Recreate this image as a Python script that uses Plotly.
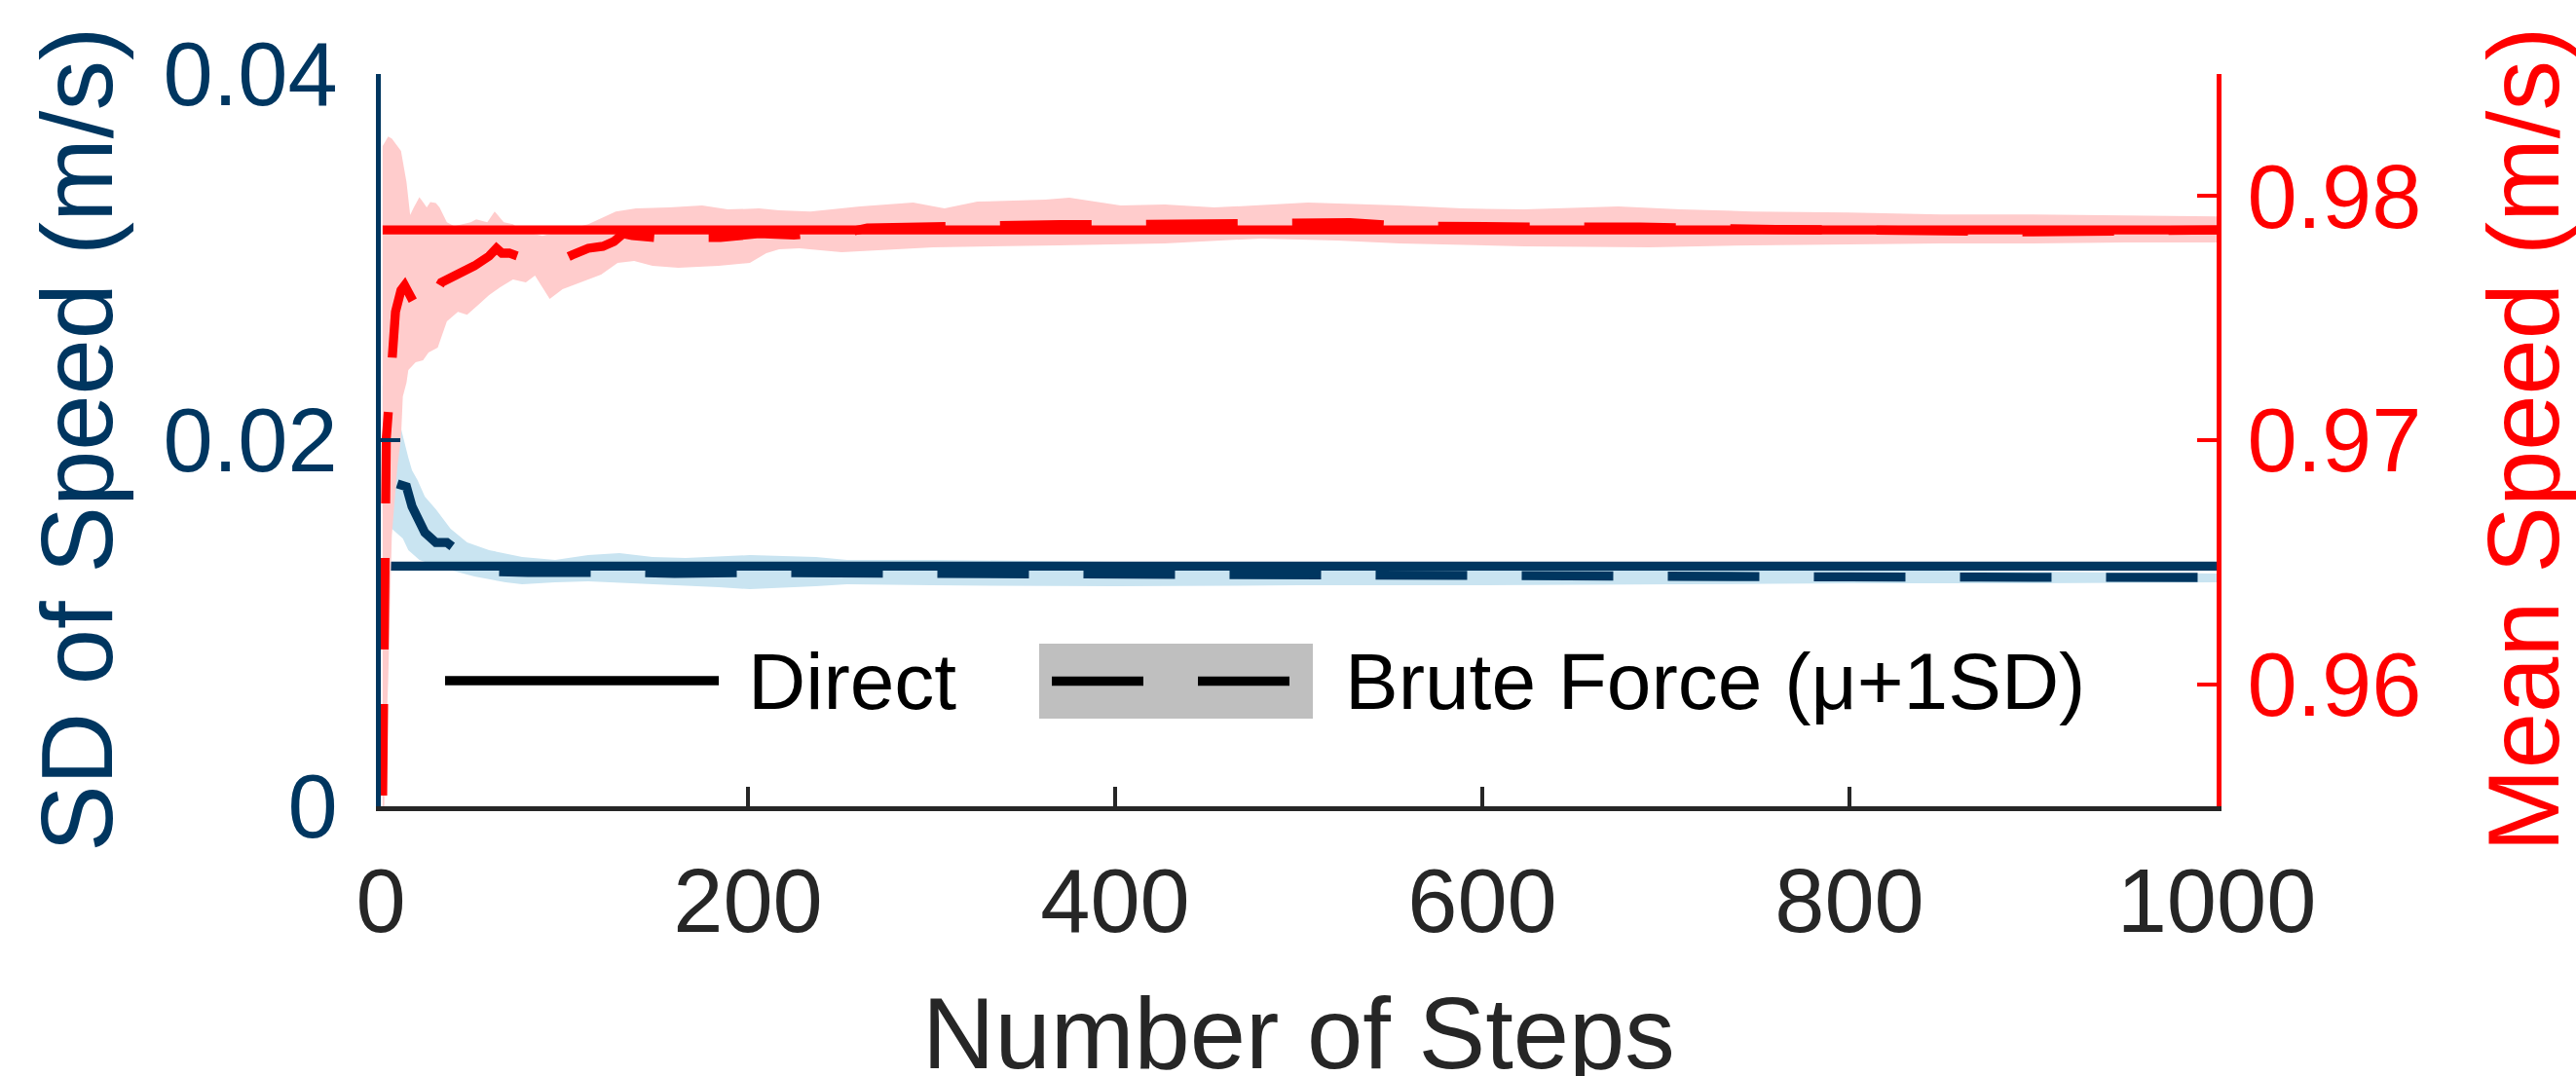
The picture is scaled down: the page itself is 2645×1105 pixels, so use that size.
import plotly.graph_objects as go

# ---------------- data ----------------
# Brute-force mean speed (right axis, m/s)
bf_mean_x = [1, 3, 5, 6, 8, 11, 13, 15, 17, 22, 33, 42, 51, 59, 63, 66, 70, 88,
             95, 104, 113, 121, 127, 132, 137, 150, 167, 185, 206, 225, 242, 255, 265, 291,
             320, 345, 370, 400, 425, 449, 479, 505, 528, 558, 583, 608, 637, 686, 717,
             760, 800, 850, 900, 950, 1000]
bf_mean = [0.95544, 0.97008, 0.97207, 0.97347, 0.97526, 0.97614, 0.97634, 0.97606, 0.97578,
           0.97506, 0.97646, 0.97678, 0.97714, 0.97754, 0.97786, 0.97766, 0.97766,
           0.97718, 0.97726, 0.97758, 0.97786, 0.97794, 0.97814, 0.97846, 0.97838,
           0.97830, 0.97826, 0.97830, 0.97846, 0.97840, 0.97853, 0.97853, 0.97869, 0.97873,
           0.97883, 0.97885, 0.97883, 0.97883, 0.97885, 0.97883, 0.97891, 0.97893, 0.97891,
           0.97877, 0.97873, 0.97869, 0.97873, 0.97873, 0.97865, 0.97863, 0.97861, 0.97855,
           0.97853, 0.97857, 0.97861]

# Brute-force mean speed band, upper edge
bf_mean_up_x = [1, 4, 6, 11, 14, 16, 18, 21, 23, 25, 27, 30, 32, 36, 40, 49, 52, 58, 62, 67,
                72, 77, 88, 99, 113, 128, 139, 157, 175, 189, 206, 217, 234, 261, 290, 307,
                325, 362, 375, 403, 427, 454, 505, 555, 589, 623, 674, 708, 747, 800, 850,
                900, 950, 1000]
bf_mean_up = [0.98205, 0.98244, 0.98236, 0.98185, 0.98057, 0.97923, 0.97953, 0.97995, 0.97975,
              0.97953, 0.97975, 0.97971, 0.97953, 0.97893, 0.97877, 0.97893, 0.97905, 0.97893,
              0.97937, 0.97893, 0.97885, 0.97857, 0.97837, 0.97857, 0.97885, 0.97937, 0.97949,
              0.97953, 0.97961, 0.97945, 0.97949, 0.97941, 0.97937, 0.97957, 0.97973, 0.97949,
              0.97977, 0.97985, 0.97993, 0.97961, 0.97965, 0.97953, 0.97973, 0.97961, 0.97949,
              0.97945, 0.97957, 0.97945, 0.97937, 0.97933, 0.97925, 0.97925, 0.97921, 0.97917]

# Brute-force mean speed band, lower edge
bf_mean_lo_x = [1, 2, 4, 6, 9, 11, 12, 14, 15, 19, 23, 26, 31, 36, 42, 47, 53, 59, 65, 72,
                79, 84, 92, 99, 109, 120, 129, 138, 148, 162, 184, 201, 210, 217, 228, 251,
                301, 369, 427, 479, 521, 555, 623, 691, 747, 800, 850, 900, 950, 1000]
bf_mean_lo = [0.94500, 0.95600, 0.96011, 0.96609, 0.96888, 0.97008, 0.97179, 0.97235, 0.97287,
              0.97319, 0.97327, 0.97359, 0.97379, 0.97487, 0.97526, 0.97514, 0.97554, 0.97594,
              0.97626, 0.97658, 0.97646, 0.97674, 0.97578, 0.97618, 0.97646, 0.97678, 0.97726,
              0.97734, 0.97714, 0.97706, 0.97714, 0.97726, 0.97766, 0.97782, 0.97786, 0.97770,
              0.97790, 0.97798, 0.97806, 0.97826, 0.97818, 0.97806, 0.97794, 0.97790, 0.97798,
              0.97802, 0.97806, 0.97806, 0.97810, 0.97810]

# Brute-force SD of speed (left axis, m/s)
bf_sd_x = [9, 14, 17, 21, 24, 30, 36, 48, 60, 80, 109, 137, 160, 186, 210, 300,
           400, 500, 600, 700, 800, 900, 1000]
bf_sd = [0.01761, 0.01745, 0.01638, 0.01569, 0.01495, 0.01441,
         0.01441, 0.01350, 0.01282, 0.01277, 0.01282, 0.01277, 0.01272, 0.01277, 0.01277,
         0.01272, 0.01266, 0.01261, 0.01258, 0.01255, 0.01253, 0.01251, 0.01250]

bf_sd_up_x = [1, 3, 8, 11, 15, 17, 20, 24, 30, 38, 47, 59, 77, 95, 113, 130, 148, 166, 201,
              237, 254, 300, 400, 500, 600, 700, 800, 900, 1000]
bf_sd_up = [0.02300, 0.02170, 0.02117, 0.02064, 0.01904, 0.01835, 0.01782, 0.01692, 0.01622,
            0.01516, 0.01442, 0.01399, 0.01362, 0.01346, 0.01372, 0.01383, 0.01362, 0.01356,
            0.01372, 0.01362, 0.01346, 0.01346, 0.01335, 0.01325, 0.01314, 0.01303, 0.01293,
            0.01282, 0.01271]

bf_sd_lo_x = [1, 3, 6, 12, 15, 21, 33, 51, 68, 77, 95, 113, 148, 184, 201, 237, 254, 300,
              400, 500, 600, 700, 800, 900, 1000]
bf_sd_lo = [0.01600, 0.01530, 0.01516, 0.01463, 0.01399, 0.01346, 0.01303, 0.01255, 0.01223,
            0.01213, 0.01223, 0.01229, 0.01213, 0.01197, 0.01186, 0.01202, 0.01213, 0.01207,
            0.01202, 0.01207, 0.01207, 0.01213, 0.01218, 0.01218, 0.01223]

# Direct method (constant)
direct_x = [1, 1000]
direct_mean = [0.97861, 0.97861]
direct_sd = [0.01312, 0.01312]

x_ticks = [0, 200, 400, 600, 800, 1000]
x_ticktext = ["0", "200", "400", "600", "800", "1000"]
yl_ticks = [0, 0.02, 0.04]
yl_ticktext = ["0", "0.02", "0.04"]
yr_ticks = [0.96, 0.97, 0.98]
yr_ticktext = ["0.96", "0.97", "0.98"]

# ---------------- style ----------------
NAVY = "#003660"
RED = "#FF0000"
PINK = "#FFCCCC"
LIGHTBLUE = "#C9E4F1"
GRAY = "#262626"
FONT = "Liberation Sans, Arial, Helvetica, sans-serif"
LW = 9.3
DASH = "94px,56px"

W, H = 2645, 1105
PL, PR, PT, PB = 391, 2276, 76, 828   # plot area in px


def xp(px):
    return (px - PL) / (PR - PL)


def yp(py):
    return (PB - py) / (PB - PT)


fig = go.Figure()

# left axis (SD)
fig.add_trace(go.Scatter(x=bf_sd_up_x + bf_sd_lo_x[::-1], y=bf_sd_up + bf_sd_lo[::-1],
                         fill="toself", fillcolor=LIGHTBLUE, mode="lines",
                         line=dict(width=0), hoverinfo="skip", showlegend=False, yaxis="y"))
fig.add_trace(go.Scatter(x=bf_sd_x, y=bf_sd, mode="lines",
                         line=dict(color=NAVY, width=LW, dash=DASH),
                         hoverinfo="skip", showlegend=False, yaxis="y"))
fig.add_trace(go.Scatter(x=direct_x, y=direct_sd, mode="lines",
                         line=dict(color=NAVY, width=LW),
                         hoverinfo="skip", showlegend=False, yaxis="y"))

# right axis (mean)
fig.add_trace(go.Scatter(x=bf_mean_up_x + bf_mean_lo_x[::-1], y=bf_mean_up + bf_mean_lo[::-1],
                         fill="toself", fillcolor=PINK, mode="lines",
                         line=dict(width=0), hoverinfo="skip", showlegend=False, yaxis="y2"))
fig.add_trace(go.Scatter(x=bf_mean_x, y=bf_mean, mode="lines",
                         line=dict(color=RED, width=LW, dash=DASH),
                         hoverinfo="skip", showlegend=False, yaxis="y2"))
fig.add_trace(go.Scatter(x=direct_x, y=direct_mean, mode="lines",
                         line=dict(color=RED, width=LW),
                         hoverinfo="skip", showlegend=False, yaxis="y2"))

axis_common = dict(showgrid=False, zeroline=False, showline=True, linewidth=5,
                   ticks="inside", ticklen=20, tickwidth=4)

fig.update_layout(
    width=W, height=H,
    margin=dict(l=PL, r=W - PR, t=PT, b=H - PB, autoexpand=False),
    paper_bgcolor="white", plot_bgcolor="white",
    showlegend=False,
    font=dict(family=FONT),
    xaxis=dict(range=[0, 1000], tickvals=x_ticks, ticktext=x_ticktext,
               linecolor=GRAY, tickcolor=GRAY, ticklabelstandoff=14,
               tickfont=dict(size=92, color=GRAY, family=FONT), **axis_common),
    yaxis=dict(range=[0, 0.04], tickvals=yl_ticks, ticktext=yl_ticktext,
               linecolor=NAVY, tickcolor=NAVY, ticklabelstandoff=21,
               tickfont=dict(size=92, color=NAVY, family=FONT), **axis_common),
    yaxis2=dict(range=[0.955, 0.985], tickvals=yr_ticks, ticktext=yr_ticktext,
                overlaying="y", side="right",
                linecolor=RED, tickcolor=RED, ticklabelstandoff=8,
                tickfont=dict(size=92, color=RED, family=FONT), **axis_common),
)

# legend (drawn manually)
shapes = [
    dict(type="line", xref="paper", yref="paper", x0=xp(457), x1=xp(738), y0=yp(699), y1=yp(699),
         line=dict(color="black", width=LW)),
    dict(type="rect", xref="paper", yref="paper", x0=xp(1067), x1=xp(1348), y0=yp(738), y1=yp(661),
         fillcolor="#BFBFBF", line=dict(width=0)),
    dict(type="line", xref="paper", yref="paper", x0=xp(1080), x1=xp(1174), y0=yp(699.5), y1=yp(699.5),
         line=dict(color="black", width=LW)),
    dict(type="line", xref="paper", yref="paper", x0=xp(1230), x1=xp(1324), y0=yp(699.5), y1=yp(699.5),
         line=dict(color="black", width=LW)),
]
fig.update_layout(shapes=shapes)

annotations = [
    dict(text="Direct", x=xp(766), y=yp(699), xref="paper", yref="paper",
         xanchor="left", yanchor="middle", showarrow=False,
         font=dict(size=82, color="black", family=FONT)),
    dict(text="Brute Force (μ+1SD)", x=xp(1379), y=yp(699), xref="paper", yref="paper",
         xanchor="left", yanchor="middle", showarrow=False,
         font=dict(size=82, color="black", family=FONT)),
    dict(text="Number of Steps", x=xp(1333.5), y=yp(1061), xref="paper", yref="paper",
         xanchor="center", yanchor="middle", showarrow=False,
         font=dict(size=103, color=GRAY, family=FONT)),
    dict(text="SD of Speed (m/s)", x=xp(79), y=yp(452), xref="paper", yref="paper",
         xanchor="center", yanchor="middle", showarrow=False, textangle=-90,
         font=dict(size=103, color=NAVY, family=FONT)),
    dict(text="Mean Speed (m/s)", x=xp(2591), y=yp(452), xref="paper", yref="paper",
         xanchor="center", yanchor="middle", showarrow=False, textangle=-90,
         font=dict(size=103, color=RED, family=FONT)),
]
fig.update_layout(annotations=annotations)

fig.write_html("out.html", config={"displayModeBar": False},
               post_script="document.body.style.margin='0px';")
